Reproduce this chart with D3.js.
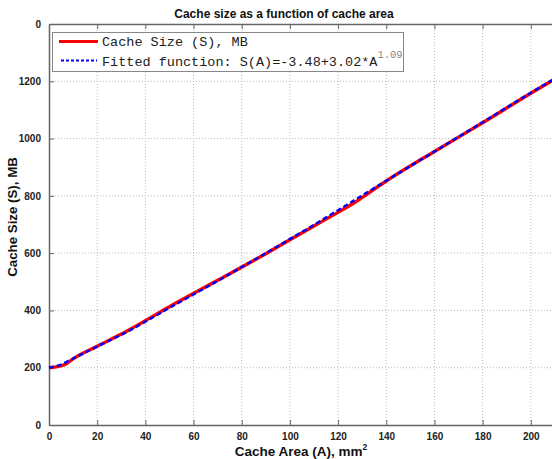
<!doctype html>
<html lang="en">
<head>
<meta charset="utf-8">
<title>Cache size as a function of cache area</title>
<style>
  body { margin: 0; background: #fff; }
  svg { display: block; }
  .tick text { font-family: Arial, "Liberation Sans", sans-serif; font-size: 10px; font-weight: bold; fill: #222; }
  .lab { font-family: Arial, "Liberation Sans", sans-serif; font-weight: bold; fill: #111; }
  .leg { font-family: "Liberation Mono", "DejaVu Sans Mono", monospace; font-size: 13.5px; fill: #222; }
</style>
<script src="https://d3js.org/d3.v7.min.js"></script>
</head>
<body>
<div id="chart"></div>
<script>
// measured cache size (red)
var areaMeasured = [0, 4, 7, 10, 20, 33, 50, 70, 90, 110, 118, 125, 140, 160, 180, 200, 215];
var sizeMeasured = [200, 205, 213, 231, 275, 331, 413, 505, 598, 695, 733, 767, 852, 955, 1055, 1158, 1232];
// fitted function (blue dashed)
var areaFit = [0, 5, 10, 20, 33, 50, 70, 90, 110, 120, 140, 160, 180, 200, 215];
var sizeFit = [200, 211, 232, 274, 328, 409, 503, 600, 699, 750, 853, 955, 1057, 1160, 1234];
// axis ticks
var xTicks = [0, 20, 40, 60, 80, 100, 120, 140, 160, 180, 200];
var yTicks = [0, 200, 400, 600, 800, 1000, 1200, 1400];
var yTickLabels = ["0", "200", "400", "600", "800", "1000", "1200", "0"];

var W = 552, H = 459;
var pLeft = 49, pTop = 24, pRight = 579, pBottom = 425;

var svg = d3.select("#chart").append("svg").attr("width", W).attr("height", H);

var x = d3.scaleLinear().domain([0, 220]).range([pLeft, pRight]);
var y = d3.scaleLinear().domain([0, 1400]).range([pBottom, pTop]);

// grid
var grid = svg.append("g");
grid.selectAll(".gx").data(xTicks.slice(1)).enter().append("line")
  .attr("x1", d => x(d)).attr("x2", d => x(d))
  .attr("y1", pTop).attr("y2", pBottom)
  .attr("stroke", "#bbb").attr("stroke-dasharray", "1,2");
grid.selectAll(".gy").data(yTicks.slice(1, -1)).enter().append("line")
  .attr("x1", pLeft).attr("x2", pRight)
  .attr("y1", d => y(d)).attr("y2", d => y(d))
  .attr("stroke", "#bbb").attr("stroke-dasharray", "1,2");

// axes
var xAxis = svg.append("g").attr("transform", "translate(0," + pBottom + ")")
  .call(d3.axisBottom(x).tickValues(xTicks).tickSize(-5).tickPadding(8).tickSizeOuter(0));
var xAxisTop = svg.append("g").attr("transform", "translate(0," + pTop + ")")
  .call(d3.axisTop(x).tickValues(xTicks).tickSize(-5).tickFormat("").tickSizeOuter(0));
var yAxis = svg.append("g").attr("transform", "translate(" + pLeft + ",0)")
  .call(d3.axisLeft(y).tickValues(yTicks).tickSize(-5).tickPadding(8).tickSizeOuter(0)
    .tickFormat((d, i) => yTickLabels[i]));
[xAxis, xAxisTop, yAxis].forEach(function(a) {
  a.select(".domain").attr("stroke", "#666").attr("stroke-width", 1.5);
  a.selectAll(".tick line").attr("stroke", "#666");
});

// lines
var line = d3.line().x(d => x(d[0])).y(d => y(d[1])).curve(d3.curveMonotoneX);
svg.append("path")
  .datum(d3.zip(areaMeasured, sizeMeasured))
  .attr("d", line).attr("fill", "none")
  .attr("stroke", "#ff0000").attr("stroke-width", 3.4);
svg.append("path")
  .datum(d3.zip(areaFit, sizeFit))
  .attr("d", line).attr("fill", "none")
  .attr("stroke", "#0000ff").attr("stroke-width", 2.4).attr("stroke-dasharray", "5,3");

// legend
var lg = svg.append("g");
lg.append("rect").attr("x", 52.5).attr("y", 32.5).attr("width", 351).attr("height", 39)
  .attr("fill", "#fff").attr("stroke", "#888");
lg.append("line").attr("x1", 59).attr("x2", 98).attr("y1", 41.5).attr("y2", 41.5)
  .attr("stroke", "#ff0000").attr("stroke-width", 3);
lg.append("line").attr("x1", 61).attr("x2", 97).attr("y1", 60.5).attr("y2", 60.5)
  .attr("stroke", "#0000ff").attr("stroke-width", 2).attr("stroke-dasharray", "3,2");
lg.append("text").attr("class", "leg").attr("x", 102).attr("y", 46).text("Cache Size (S), MB");
var t2 = lg.append("text").attr("class", "leg").attr("x", 102).attr("y", 66);
t2.append("tspan").text("Fitted function: S(A)=-3.48+3.02*A");
t2.append("tspan").attr("dy", -8).attr("font-size", 10.5).attr("fill", "#888").text("1.09");

// title and axis labels
svg.append("text").attr("class", "lab").attr("x", 284).attr("y", 18)
  .attr("text-anchor", "middle").attr("font-size", 12).text("Cache size as a function of cache area");
var xl = svg.append("text").attr("class", "lab").attr("x", 301).attr("y", 456)
  .attr("text-anchor", "middle").attr("font-size", 13.5);
xl.append("tspan").text("Cache Area (A), mm");
xl.append("tspan").attr("dy", -6).attr("font-size", 8.5).text("2");
svg.append("text").attr("class", "lab")
  .attr("transform", "translate(17,217) rotate(-90)")
  .attr("text-anchor", "middle").attr("font-size", 13.3).text("Cache Size (S), MB");
</script>
</body>
</html>
